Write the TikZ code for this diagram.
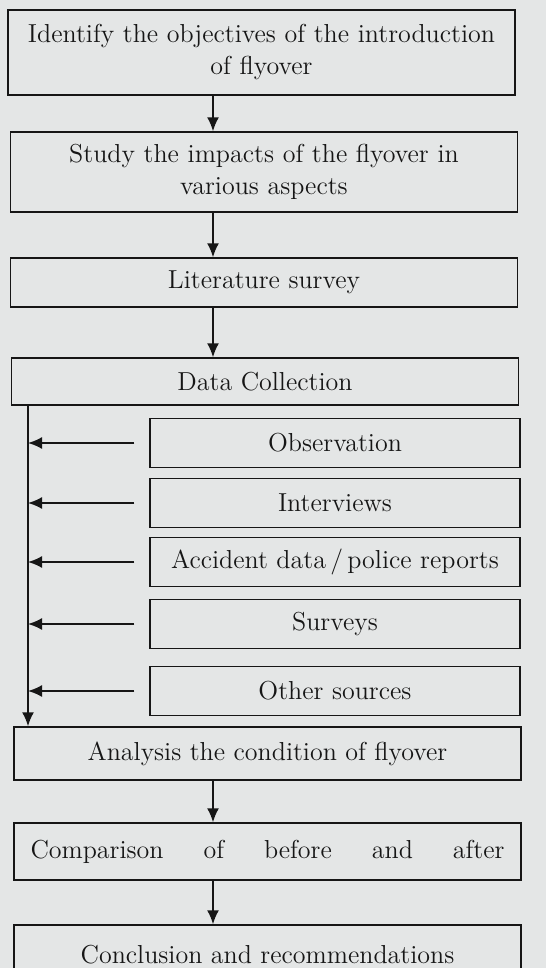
\documentclass[tikz,border=0pt]{standalone}
\usepackage{tikz}
\usetikzlibrary{positioning,arrows.meta}
\definecolor{Paper}{RGB}{228, 230, 230}
\definecolor{Ink}{RGB}{22, 22, 22}

\begin{document}
\begin{tikzpicture}[x=0.5pt,y=-0.5pt,
    box/.style={draw=Ink,line width=0.7pt,minimum width=253.5pt,inner xsep=4pt,inner ysep=2pt,
      font=\fontsize{13}{16}\selectfont,align=center,text=Ink},
    srcbox/.style={box,minimum width=185pt,minimum height=24.5pt},
    flow/.style={draw=Ink,line width=0.9pt,-{Latex[length=7pt,width=6pt]}}]
        \useasboundingbox (0,0) rectangle (546,968);
        \clip (0,0) rectangle (546,968);
        \fill[Paper] (0,0) rectangle (546,968);
        % main steps
        \node[box,minimum height=42.5pt,text width=245.5pt] (obj) at (261.5,52.5)
          {Identify the objectives of the introduction\\ of flyover};
        \node[box,minimum height=40pt,text width=245.5pt] (impact) at (264,172)
          {Study the impacts of the flyover in\\ various aspects};
        \node[box,minimum height=24.5pt] (lit) at (264,282.5) {Literature survey};
        \node[box,minimum height=23.5pt] (data) at (265,381.5) {Data Collection};
        % data sources
        \node[srcbox] (obs) at (335,443) {Observation};
        \node[srcbox] (intv) at (335,503) {Interviews};
        \node[srcbox] (acc) at (335,562) {Accident data\,/\,police reports};
        \node[srcbox] (surv) at (335,624) {Surveys};
        \node[srcbox] (other) at (335,691) {Other sources};
        % last steps
        \node[box,minimum height=26.5pt] (anal) at (267.5,753.5) {Analysis the condition of flyover};
        \node[box,minimum height=28.5pt] (comp) at (267.5,851.5)
          {\makebox[237pt][s]{Comparison of before and after}};
        \node[box,minimum height=30pt] (concl) at (267.5,955) {Conclusion and recommendations};
        \coordinate (mainx) at (213,0);
        \coordinate (spine) at (28,0);
        \draw[flow] (obj.south -| mainx) -- (impact.north -| mainx);
        \draw[flow] (impact.south -| mainx) -- (lit.north -| mainx);
        \draw[flow] (lit.south -| mainx) -- (data.north -| mainx);
        \draw[flow] (anal.south -| mainx) -- (comp.north -| mainx);
        \draw[flow] (comp.south -| mainx) -- (concl.north -| mainx);
        \draw[flow] (data.south -| spine) -- (anal.north -| spine);
        \foreach \src in {obs,intv,acc,surv,other} {
          \draw[flow] ([xshift=-7.5pt]\src.west) -- (\src.west -| spine);
        }
      \end{tikzpicture}
\end{document}
